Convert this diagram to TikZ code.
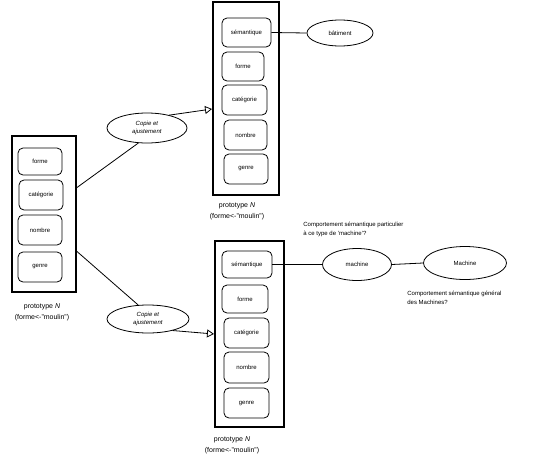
\documentclass[tikz,border=0pt]{standalone}
\usepackage{fontspec}
\setmainfont{Liberation Sans}
\usetikzlibrary{arrows.meta, shapes.geometric}

\begin{document}
\begin{tikzpicture}[x=1pt, y=-1pt, line width=0.8pt,
  cadre/.style={draw, line width=2pt, inner sep=0pt},
  case/.style={draw, rounded corners=5pt, inner sep=0pt, font=\fontsize{6}{7}\selectfont},
  bulle/.style={draw, ellipse, inner sep=0pt, font=\fontsize{6}{8}\selectfont, align=center},
  note/.style={anchor=north west, align=left, inner sep=0pt, font=\fontsize{6}{9}\selectfont},
  legende/.style={align=center, inner sep=0pt, font=\fontsize{7}{11}\selectfont},
  fleche/.style={-{Triangle[open, length=7pt, width=8pt]}}]
\useasboundingbox (0,0) rectangle (534,455);

% prototype de depart
\node[cadre, minimum width=64, minimum height=156] (gauche) at (44,213.5) {};
\node[case, minimum width=44, minimum height=27] (g-forme) at (40,161.5) {forme};
\node[case, minimum width=44, minimum height=30] (g-cat) at (41,195) {catégorie};
\node[case, minimum width=44, minimum height=30] (g-nombre) at (40,230) {nombre};
\node[case, minimum width=44, minimum height=30] (g-genre) at (40,267) {genre};
\node[legende] (g-leg) at (42,312) {prototype \textit{N}\\(forme<-"moulin")};

% copies
\node[bulle, minimum width=80, minimum height=30] (copie1) at (147,128) {\textit{Copie et}\\\textit{ajustement}};
\node[bulle, minimum width=82, minimum height=28] (copie2) at (148,319) {\textit{Copie et}\\\textit{ajustement}};

% prototype du haut
\node[cadre, minimum width=66, minimum height=193] (haut) at (246,98.5) {};
\node[case, minimum width=49, minimum height=29] (h-sem) at (246.5,32.5) {sémantique};
\node[case, minimum width=42, minimum height=29] (h-forme) at (243,66.5) {forme};
\node[case, minimum width=45, minimum height=30] (h-cat) at (244.5,100) {catégorie};
\node[case, minimum width=43, minimum height=30] (h-nombre) at (245.5,135) {nombre};
\node[case, minimum width=44, minimum height=30] (h-genre) at (246,169) {genre};
\node[legende] (h-leg) at (237,211) {prototype \textit{N}\\(forme<-"moulin")};
\node[bulle, minimum width=66, minimum height=26] (batiment) at (340,33) {bâtiment};

% prototype du bas
\node[cadre, minimum width=69, minimum height=186] (bas) at (249.5,334) {};
\node[case, minimum width=50, minimum height=27] (b-sem) at (247,264.5) {sémantique};
\node[case, minimum width=46, minimum height=28] (b-forme) at (245,299) {forme};
\node[case, minimum width=45, minimum height=30] (b-cat) at (246.5,333) {catégorie};
\node[case, minimum width=45, minimum height=31] (b-nombre) at (246.5,367.5) {nombre};
\node[case, minimum width=45, minimum height=30] (b-genre) at (246.5,403) {genre};
\node[legende] (b-leg) at (232,445) {prototype \textit{N}\\(forme<-"moulin")};
\node[bulle, minimum width=69, minimum height=32] (machine) at (357,264.5) {machine};
\node[bulle, minimum width=83, minimum height=33] (Machine) at (465,263) {Machine};

\node[note] (n-part) at (303,222) {Comportement sémantique particulier\\à ce type de 'machine'?};
\node[note] (n-gen) at (407,291) {Comportement sémantique général\\des Machines?};

% liens
\draw ([yshift=26pt]gauche.east) -- (copie1.240);
\draw ([yshift=-38pt]gauche.east) -- (copie2.125);
\draw[fleche] (copie1.30) -- ([yshift=-10.5pt]haut.west);
\draw[fleche] (copie2.-25) -- (bas.west);
\draw (h-sem.east) -- (batiment.west);
\draw (b-sem.east) -- (machine.west);
\draw (machine.east) -- (Machine.west);
\end{tikzpicture}
\end{document}
